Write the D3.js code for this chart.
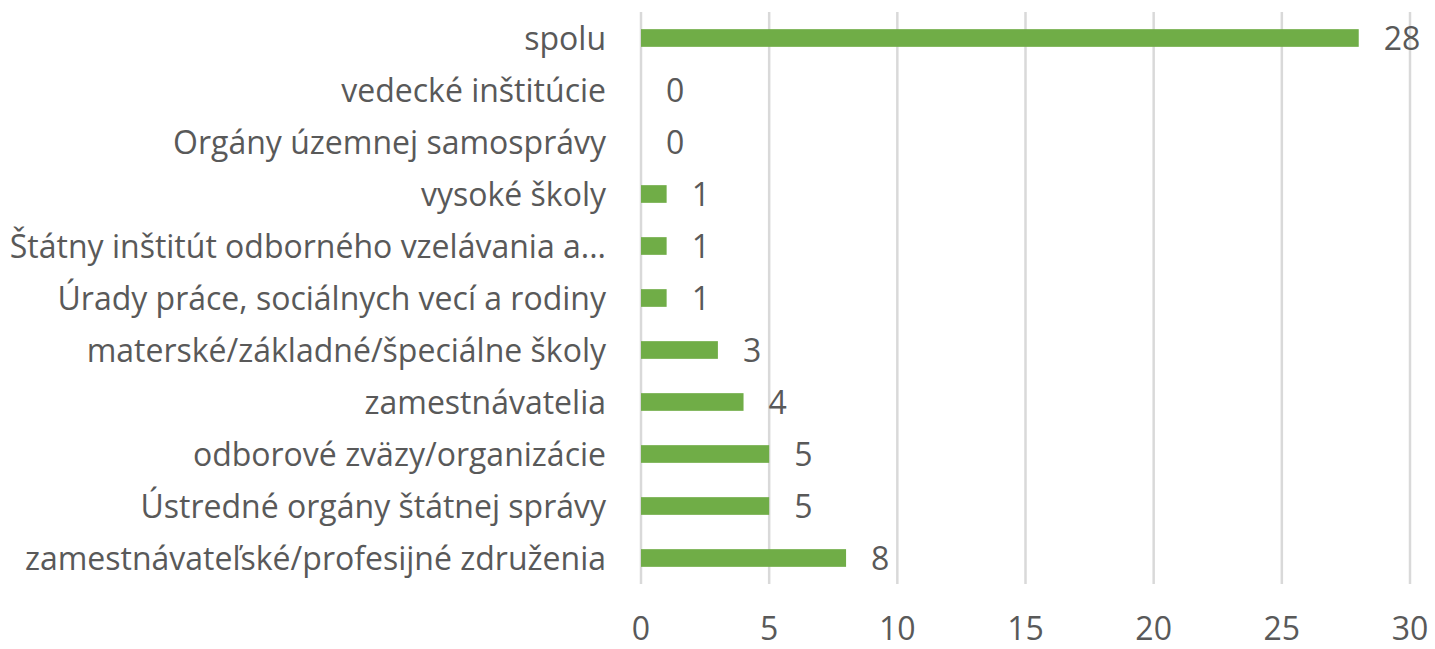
<!DOCTYPE html>
<html><head><meta charset="utf-8">
<script src="https://cdn.jsdelivr.net/npm/d3@7"></script>
<style>body{margin:0;background:#fff}</style>
</head><body>
<svg id="chart" width="1435" height="649"></svg>
<script>
const categories = ["spolu","vedecké inštitúcie","Orgány územnej samosprávy","vysoké školy","Štátny inštitút odborného vzelávania a...","Úrady práce, sociálnych vecí a rodiny","materské/základné/špeciálne školy","zamestnávatelia","odborové zväzy/organizácie","Ústredné orgány štátnej správy","zamestnávateľské/profesijné združenia"];
const values = [28,0,0,1,1,1,3,4,5,5,8];
const xTicks = [0,5,10,15,20,25,30];

const svg = d3.select("#chart");
const m = {left:641, right:1410, top:12, bottom:584};
const font = "'Open Sans', sans-serif";
const fs = "32px";
const txt = "#595959";
const x = d3.scaleLinear().domain([0,30]).range([m.left, m.right]);
const y = d3.scaleBand().domain(categories).range([m.top, m.bottom]).paddingInner(0.66).paddingOuter(0.33);

svg.append("g").selectAll("line").data(xTicks).join("line")
  .attr("x1", d=>x(d)).attr("x2", d=>x(d)).attr("y1", m.top).attr("y2", m.bottom)
  .attr("stroke", "#d9d9d9").attr("stroke-width", 2.5);

svg.append("g").selectAll("rect").data(values).join("rect")
  .attr("x", x(0)).attr("y", (d,i)=>y(categories[i]))
  .attr("width", d=>x(d)-x(0)).attr("height", y.bandwidth())
  .attr("fill", "#70ad47");

svg.append("g").selectAll("text").data(values).join("text")
  .attr("x", d=>x(d)+25).attr("y", (d,i)=>y(categories[i])+y.bandwidth()/2)
  .attr("dy","0.36em").attr("fill", txt).style("font-family", font).style("font-size",fs)
  .text(d=>d);

svg.append("g").selectAll("text").data(categories).join("text")
  .attr("x", 606).attr("y", d=>y(d)+y.bandwidth()/2).attr("dy","0.36em")
  .attr("text-anchor","end").attr("fill", txt).style("font-family", font).style("font-size",fs)
  .text(d=>d);

svg.append("g").selectAll("text").data(xTicks).join("text")
  .attr("x", d=>x(d)).attr("y", 640).attr("text-anchor","middle")
  .attr("fill", txt).style("font-family", font).style("font-size",fs)
  .text(d=>d);
</script>
</body></html>
